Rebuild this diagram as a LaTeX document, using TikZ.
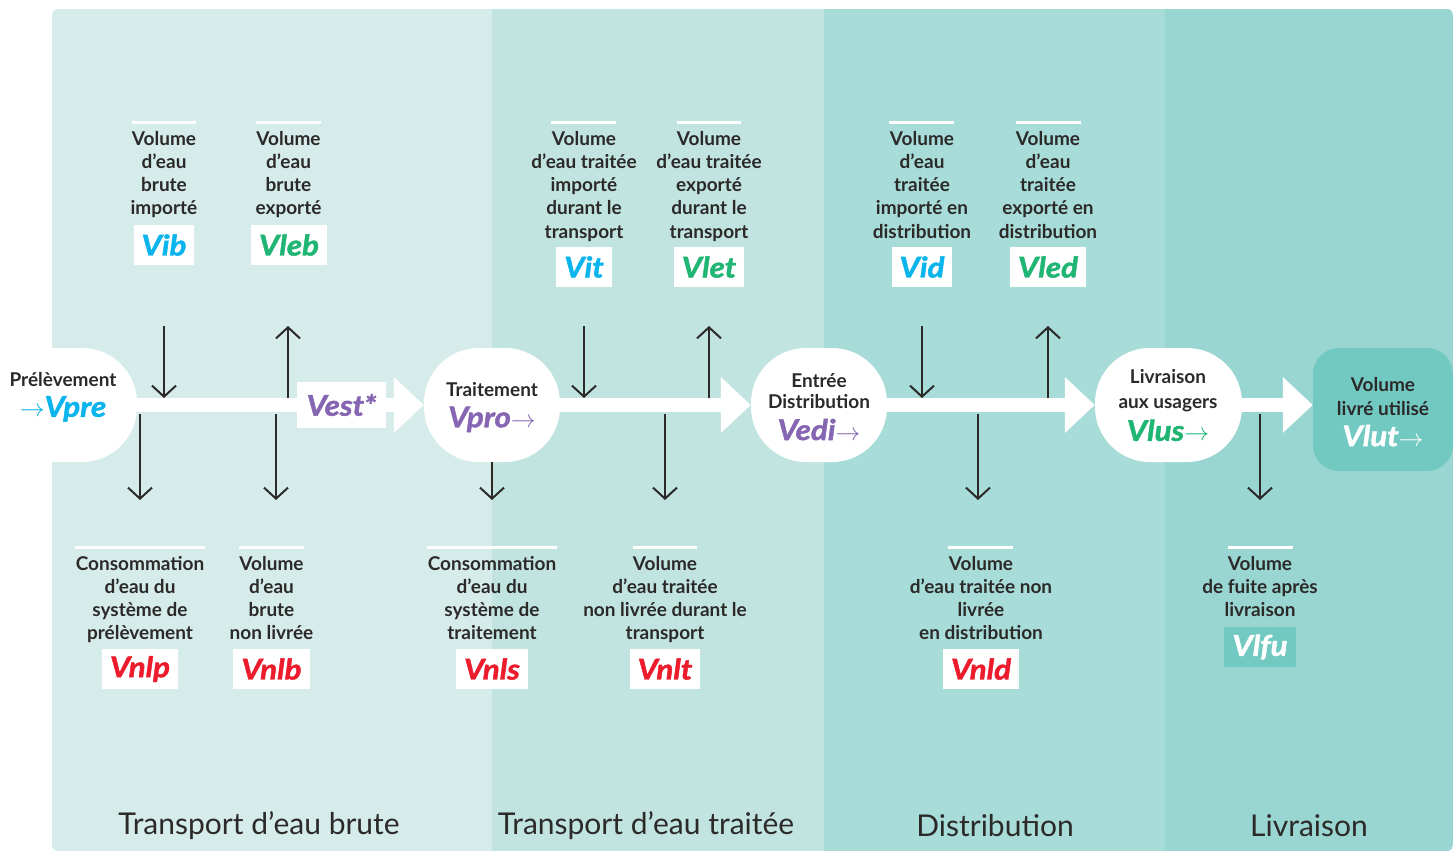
\documentclass[tikz,border=0pt]{standalone}
\usepackage{fontspec}
\setmainfont{Lato}
\newfontfamily\heavyfam{Lato}[BoldItalicFeatures={FakeBold=1.6,FakeStretch=1.1}]
\usetikzlibrary{arrows.meta}
\definecolor{bandA}{HTML}{D6ECEA}
\definecolor{bandB}{HTML}{C2E4E0}
\definecolor{bandC}{HTML}{A8DCD8}
\definecolor{bandD}{HTML}{99D5D1}
\definecolor{ink}{HTML}{2B2A29}
\definecolor{cyanV}{HTML}{0AB4EC}
\definecolor{greenV}{HTML}{1FB573}
\definecolor{purpleV}{HTML}{8666B2}
\definecolor{redV}{HTML}{EC1C2D}
\definecolor{tealV}{HTML}{72C9C2}
\newcommand\lblfont{\fontsize{19}{23.2}\selectfont\bfseries}
\newcommand\varfont{\fontsize{28.5}{30}\selectfont\heavyfam\bfseries\itshape}
\newcommand\ttlfont{\fontsize{30}{34}\selectfont}
\tikzset{
 flow/.style={draw=white, line width=14pt, -{Triangle[length=30pt,width=54pt]}},
 stage/.style={fill=white, rounded corners=55pt, minimum width=136pt, minimum height=114pt, inner sep=0pt, align=center, text=ink, font=\lblfont},
 stagetext/.style={align=center, text=ink, font=\lblfont, inner sep=0pt},
 lbl/.style={anchor=north, align=center, text=ink, font=\lblfont, inner sep=0pt},
 var/.style={fill=white, minimum height=40pt, inner xsep=8pt, inner ysep=0pt, font=\varfont},
 rule/.style={draw=white, line width=3pt},
 flux/.style={draw=ink, line width=2pt, -{Straight Barb[length=11pt,width=24pt]}},
 ttl/.style={text=ink, font=\ttlfont}
}
\begin{document}
\begin{tikzpicture}[x=1pt,y=-1pt]
\useasboundingbox (0,0) rectangle (1455,853);
% background bands
\begin{scope}
\clip[rounded corners=6pt] (52,9) rectangle (1453,851);
\fill[bandA] (52,9) rectangle (492,851);
\fill[bandB] (492,9) rectangle (824,851);
\fill[bandC] (824,9) rectangle (1165,851);
\fill[bandD] (1165,9) rectangle (1453,851);
\end{scope}
% stages
\node[stage, minimum width=194pt] (pre) at (40,405) {};
\node[stage] (tra) at (492,405) {};
\node[stage] (edi) at (819,405) {};
\node[stage, minimum width=147pt] (liv) at (1168.5,405) {};
\node[stage, fill=tealV, rounded corners=26pt, minimum width=140pt, minimum height=123pt] (lut) at (1383,409.5) {};
% main flow
\draw[flow] (pre.east) -- (tra.west);
\draw[flow] (tra.east) -- (edi.west);
\draw[flow] (edi.east) -- (liv.west);
\draw[flow] (liv.east) -- (liv.east -| lut.west);
% stage texts
\node[stagetext] (preT) at (63,397) {Prélèvement\\[7pt]{\varfont\color{cyanV}$\rightarrow$Vpre}};
\node[stagetext] (traT) at (492,407) {Traitement\\[8pt]{\varfont\color{purpleV}Vpro$\rightarrow$}};
\node[stagetext] (ediT) at (819,407) {Entrée\\[-2pt]Distribution\\[8pt]{\varfont\color{purpleV}Vedi$\rightarrow$}};
\node[stagetext] (livT) at (1168,405) {Livraison\\[2pt]aux usagers\\[7pt]{\varfont\color{greenV}Vlus$\rightarrow$}};
\node[stagetext] (lutT) at (1383,412) {Volume\\[1pt]livré utilisé\\[7pt]{\varfont\color{white}Vlut$\rightarrow$}};
\node[var, text=purpleV, minimum width=89pt, minimum height=46pt] (est) at (341.5,405) {Vest*};
% top flux arrows
\coordinate (a1s) at (164,326); \coordinate (a1e) at (164,398);
\coordinate (a2s) at (288,398); \coordinate (a2e) at (288,326);
\coordinate (a3s) at (584,326); \coordinate (a3e) at (584,398);
\coordinate (a4s) at (709,398); \coordinate (a4e) at (709,326);
\coordinate (a5s) at (922,326); \coordinate (a5e) at (922,398);
\coordinate (a6s) at (1048,398); \coordinate (a6e) at (1048,326);
\draw[flux] (a1s) -- (a1e);
\draw[flux] (a2s) -- (a2e);
\draw[flux] (a3s) -- (a3e);
\draw[flux] (a4s) -- (a4e);
\draw[flux] (a5s) -- (a5e);
\draw[flux] (a6s) -- (a6e);
% bottom flux arrows
\coordinate (b1s) at (140,414); \coordinate (b1e) at (140,500);
\coordinate (b2s) at (276,414); \coordinate (b2e) at (276,500);
\coordinate (b3e) at (492,500);
\coordinate (b4s) at (665,414); \coordinate (b4e) at (665,500);
\coordinate (b5s) at (978,414); \coordinate (b5e) at (978,500);
\coordinate (b6s) at (1260,414); \coordinate (b6e) at (1260,500);
\draw[flux] (b1s) -- (b1e);
\draw[flux] (b2s) -- (b2e);
\draw[flux] (tra.south) -- (b3e);
\draw[flux] (b4s) -- (b4e);
\draw[flux] (b5s) -- (b5e);
\draw[flux] (b6s) -- (b6e);
% top labels
\draw[rule] (132,123) -- (196,123);
\node[lbl] (l1) at (164,131) {Volume\\d’eau\\brute\\importé};
\node[var, text=cyanV] (vib) at (164,245) {Vib};
\draw[rule] (256,123) -- (321,123);
\node[lbl] (l2) at (288.5,131) {Volume\\d’eau\\brute\\exporté};
\node[var, text=greenV] (vleb) at (289,245) {Vleb};
\draw[rule] (551,123) -- (616,123);
\node[lbl] (l3) at (584,131) {Volume\\d’eau traitée\\importé\\durant le\\transport};
\node[var, text=cyanV] (vit) at (584,267) {Vit};
\draw[rule] (677,123) -- (741,123);
\node[lbl] (l4) at (709,131) {Volume\\d’eau traitée\\exporté\\durant le\\transport};
\node[var, text=greenV] (vlet) at (709,267) {Vlet};
\draw[rule] (889,123) -- (954,123);
\node[lbl] (l5) at (922,131) {Volume\\d’eau\\traitée\\importé en\\distribution};
\node[var, text=cyanV] (vid) at (922,267) {Vid};
\draw[rule] (1016,123) -- (1081,123);
\node[lbl] (l6) at (1048,131) {Volume\\d’eau\\traitée\\exporté en\\distribution};
\node[var, text=greenV] (vled) at (1048,267) {Vled};
% bottom labels
\draw[rule] (75,547) -- (205,547);
\node[lbl] (m1) at (140,556) {Consommation\\d’eau du\\système de\\prélèvement};
\node[var, text=redV] (vnlp) at (140,669) {Vnlp};
\draw[rule] (239,547) -- (304,547);
\node[lbl] (m2) at (271.5,556) {Volume\\d’eau\\brute\\non livrée};
\node[var, text=redV] (vnlb) at (271.5,669) {Vnlb};
\draw[rule] (427,547) -- (557,547);
\node[lbl] (m3) at (492,556) {Consommation\\d’eau du\\système de\\traitement};
\node[var, text=redV] (vnls) at (492,669) {Vnls};
\draw[rule] (633,547) -- (697,547);
\node[lbl] (m4) at (665,556) {Volume\\d’eau traitée\\non livrée durant le\\transport};
\node[var, text=redV] (vnlt) at (665,669) {Vnlt};
\draw[rule] (948,547) -- (1013,547);
\node[lbl] (m5) at (981,556) {Volume\\d’eau traitée non\\livrée\\en distribution};
\node[var, text=redV] (vnld) at (981,669) {Vnld};
\draw[rule] (1228,547) -- (1293,547);
\node[lbl] (m6) at (1260,556) {Volume\\de fuite après\\livraison};
\node[var, fill=tealV, text=white] (vlfu) at (1260,647) {Vlfu};
% section titles
\node[ttl] (s1) at (259,826) {Transport d’eau brute};
\node[ttl] (s2) at (646,826) {Transport d’eau traitée};
\node[ttl] (s3) at (995,826) {Distribution};
\node[ttl] (s4) at (1309,826) {Livraison};
\end{tikzpicture}
\end{document}
